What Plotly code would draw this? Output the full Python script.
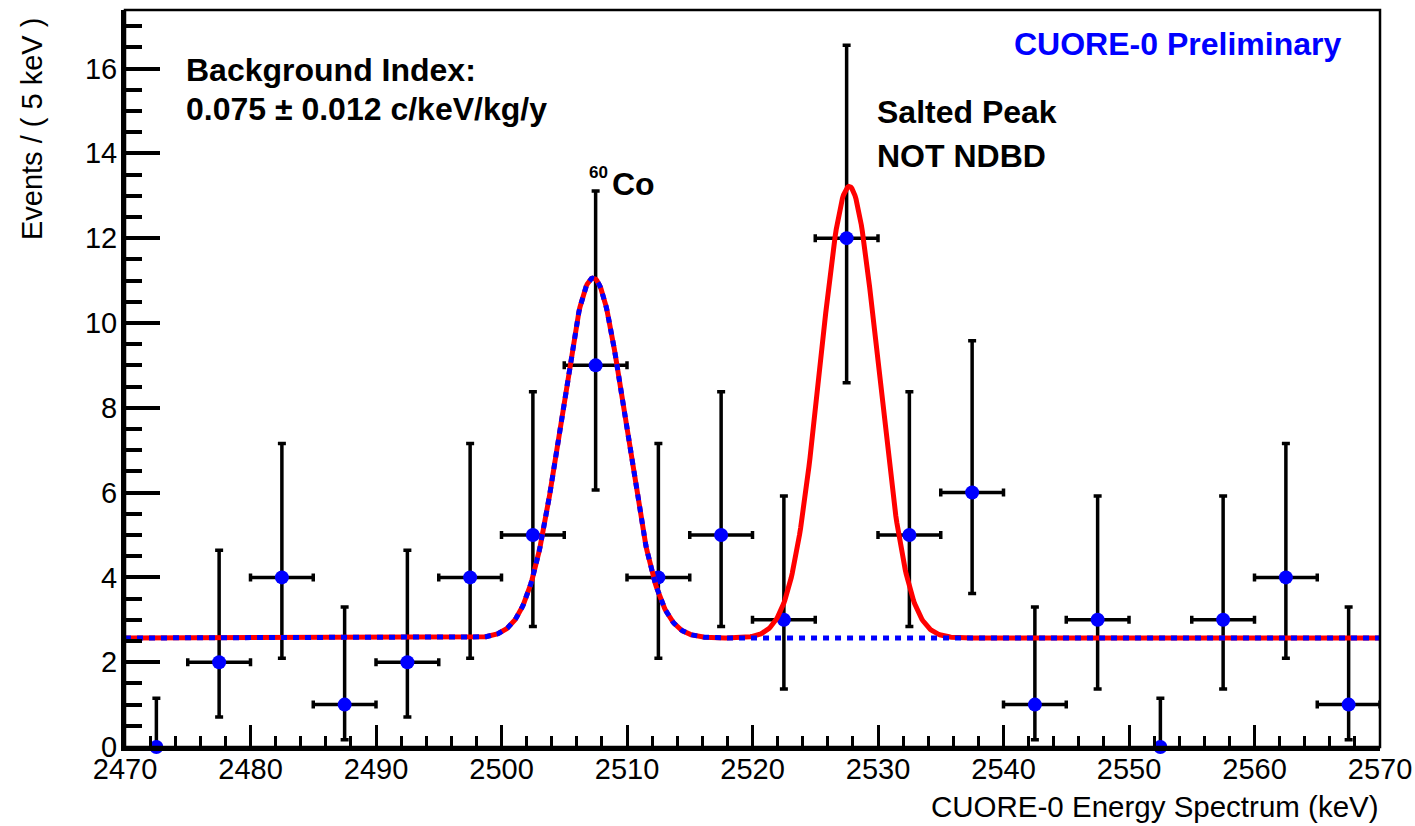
import numpy as np
import plotly.graph_objects as go

# ---------------- data ----------------
bin_centers = [2472.5, 2477.5, 2482.5, 2487.5, 2492.5, 2497.5, 2502.5, 2507.5, 2512.5, 2517.5,
               2522.5, 2527.5, 2532.5, 2537.5, 2542.5, 2547.5, 2552.5, 2557.5, 2562.5, 2567.5]
counts = [0, 2, 4, 1, 2, 4, 5, 9, 4, 5, 3, 12, 5, 6, 1, 3, 0, 3, 4, 1]
err_plus = [1.15, 2.64, 3.16, 2.30, 2.64, 3.16, 3.38, 4.11, 3.16, 3.38,
            2.92, 4.55, 3.38, 3.58, 2.30, 2.92, 1.15, 2.92, 3.16, 2.30]
err_minus = [0.0, 1.29, 1.91, 0.83, 1.29, 1.91, 2.16, 2.94, 1.91, 2.16,
             1.63, 3.41, 2.16, 2.38, 0.83, 1.63, 0.0, 1.63, 1.91, 0.83]
bin_half_width = [0, 2.5, 2.5, 2.5, 2.5, 2.5, 2.5, 2.5, 2.5, 2.5,
                  2.5, 2.5, 2.5, 2.5, 2.5, 2.5, 0, 2.5, 2.5, 2.5]

# fit model parameters
bkg_level = 2.57
co_center, co_amp, co_sigma = 2507.3, 8.49, 2.55
salt_center, salt_amp, salt_sigma = 2527.7, 10.65, 2.3

x_range = [2470, 2570]
y_range = [0, 17.38]
x_ticks = [2470, 2480, 2490, 2500, 2510, 2520, 2530, 2540, 2550, 2560, 2570]
y_ticks = [0, 2, 4, 6, 8, 10, 12, 14, 16]

# ---------------- model curves ----------------
xs = np.linspace(x_range[0], x_range[1], 1201)
co_part = co_amp * np.exp(-0.5 * ((xs - co_center) / co_sigma) ** 2)
salt_part = salt_amp * np.exp(-0.5 * ((xs - salt_center) / salt_sigma) ** 2)
full_model = bkg_level + co_part + salt_part
bkg_co_model = bkg_level + co_part

FONT = "Liberation Sans, Arial, Helvetica, sans-serif"

fig = go.Figure()

fig.add_trace(go.Scatter(
    x=bin_centers, y=counts, mode="markers",
    marker=dict(color="#0000ff", size=14, line=dict(width=0)),
    error_y=dict(type="data", symmetric=False, array=err_plus, arrayminus=err_minus,
                 color="black", thickness=3.5, width=4),
    error_x=dict(type="data", array=bin_half_width, color="black", thickness=3.5, width=4),
    cliponaxis=False, showlegend=False, hoverinfo="skip"))

fig.add_trace(go.Scatter(
    x=xs, y=full_model, mode="lines",
    line=dict(color="#ff0000", width=5), showlegend=False, hoverinfo="skip"))

fig.add_trace(go.Scatter(
    x=xs, y=bkg_co_model, mode="lines",
    line=dict(color="#0000ff", width=5, dash="6px,6px"), showlegend=False, hoverinfo="skip"))

L, R, T, B = 125, 1380.5, 10, 746.7


def px(xp):
    return (xp - L) / (R - L)


def py(yp):
    return (B - yp) / (B - T)


def note(text, x, y, size=32, xanchor="left", color="black", bold=True, angle=0, yanchor="middle"):
    fig.add_annotation(
        text=text, x=px(x), y=py(y), xref="paper", yref="paper",
        xanchor=xanchor, yanchor=yanchor, showarrow=False, textangle=angle,
        font=dict(family=FONT, size=size, color=color, weight="bold" if bold else "normal"),
        borderpad=0)


note("Background Index:", 185, 69.7)
note("0.075 ± 0.012 c/keV/kg/y", 185, 108.7)
note("60", 588, 172, size=17)
note("Co", 611, 183.5)
note("Salted Peak", 876, 112)
note("NOT NDBD", 876, 155.5)
note("CUORE-0 Preliminary", 1342, 44, xanchor="right", color="#0000ff")
note("Events / ( 5 keV )", 32, 17, size=29, bold=False, angle=-90, xanchor="center", yanchor="top")
note("CUORE-0 Energy Spectrum (keV)", 1380, 806, size=29.5, bold=False, xanchor="right")

fig.add_shape(type="rect", xref="paper", yref="paper", x0=0, x1=1, y0=0, y1=1,
              line=dict(color="black", width=2.5), layer="above")

fig.update_layout(
    width=1415, height=826,
    margin=dict(l=125, r=34.5, t=10, b=79.3, pad=0, autoexpand=False),
    paper_bgcolor="white", plot_bgcolor="white",
    font=dict(family=FONT, size=28, color="black"),
    xaxis=dict(range=x_range, tickvals=x_ticks, ticks="inside", ticklen=22, tickwidth=3,
               tickcolor="black", showline=True, linewidth=4, linecolor="black",
               showgrid=False, zeroline=False, tickfont=dict(size=29), automargin=False,
               ticklabelstandoff=-7,
               minor=dict(dtick=2, tick0=2470, ticks="inside", ticklen=11, tickwidth=3,
                          tickcolor="black", showgrid=False)),
    yaxis=dict(range=y_range, tickvals=y_ticks, ticks="inside", ticklen=35, tickwidth=4,
               tickcolor="black", showline=True, linewidth=4, linecolor="black",
               showgrid=False, zeroline=False, tickfont=dict(size=29), automargin=False,
               ticklabelstandoff=-2,
               minor=dict(dtick=0.5, tick0=0, ticks="inside", ticklen=17, tickwidth=4,
                          tickcolor="black", showgrid=False)),
)

fig.write_html("out.html")
